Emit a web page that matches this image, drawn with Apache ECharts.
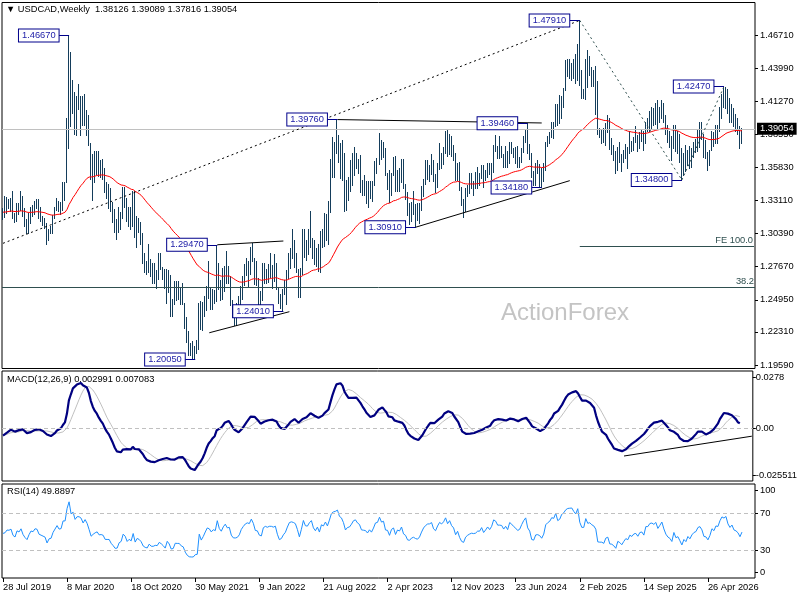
<!DOCTYPE html>
<html><head><meta charset="utf-8">
<script src="https://cdn.jsdelivr.net/npm/echarts@6/dist/echarts.min.js"></script>
<style>html,body{margin:0;padding:0;background:#fff}#c{width:800px;height:600px}</style>
</head><body><div id="c"></div>
<script>
// ---------- data ----------
const tickLabels = ['28 Jul 2019','8 Mar 2020','18 Oct 2020','30 May 2021','9 Jan 2022','21 Aug 2022','2 Apr 2023','12 Nov 2023','23 Jun 2024','2 Feb 2025','14 Sep 2025','26 Apr 2026'];
const highs = [
// 2019
1.3246,1.3345,1.3340,1.3325,1.3330,1.3385,1.3210,1.3290,1.3290,1.3385,1.3350,1.3250,1.3160,1.3210,1.3260,1.3270,1.3305,1.3320,1.3320,1.3260,1.3185,1.3165,1.3125,
// 2020
1.3080,1.3100,1.3195,1.3260,1.3330,1.3310,1.3295,1.3465,1.3460,1.3990,1.4667,1.4535,1.4300,1.4200,1.4170,1.4265,1.4170,1.4170,1.4185,1.4055,1.4010,1.3780,1.3690,1.3715,1.3715,1.3715,1.3645,1.3650,1.3580,1.3460,1.3450,1.3410,1.3300,1.3240,1.3160,1.3260,1.3220,1.3420,1.3420,1.3330,1.3255,1.3260,1.3390,1.3390,1.3180,1.3165,1.3135,1.3040,1.2880,1.2815,1.2955,1.2830,
// 2021
1.2800,1.2800,1.2740,1.2880,1.2880,1.2765,1.2750,1.2745,1.2740,1.2700,1.2500,1.2650,1.2650,1.2650,1.2600,1.2635,1.2470,1.2350,1.2240,1.2140,1.2160,1.2115,1.2165,1.2465,1.2485,1.2480,1.2530,1.2610,1.2810,1.2590,1.2585,1.2575,1.2947,1.2800,1.2660,1.2760,1.2770,1.2896,1.2775,1.2690,1.2495,1.2400,1.2465,1.2530,1.2605,1.2690,1.2785,1.2835,1.2815,1.2925,1.2964,1.2840,
// 2022
1.2815,1.2675,1.2570,1.2800,1.2800,1.2750,1.2790,1.2880,1.2780,1.2870,1.2795,1.2600,1.2540,1.2580,1.2660,1.2740,1.2880,1.2920,1.3077,1.2990,1.2880,1.2750,1.2760,1.3080,1.3080,1.2985,1.3080,1.3224,1.3005,1.2990,1.2920,1.2955,1.3060,1.3075,1.3210,1.3200,1.3310,1.3655,1.3835,1.3790,1.3976,1.3850,1.3780,1.3810,1.3700,1.3480,1.3500,1.3640,1.3700,1.3750,1.3705,1.3655,
// 2023
1.3685,1.3480,1.3520,1.3470,1.3470,1.3475,1.3470,1.3635,1.3660,1.3862,1.3805,1.3790,1.3745,1.3535,1.3560,1.3540,1.3665,1.3680,1.3560,1.3575,1.3655,1.3650,1.3450,1.3380,1.3290,1.3300,1.3385,1.3280,1.3290,1.3290,1.3430,1.3485,1.3640,1.3640,1.3605,1.3695,1.3640,1.3525,1.3620,1.3785,1.3700,1.3750,1.3880,1.3900,1.3860,1.3845,1.3765,1.3705,1.3620,1.3630,1.3420,1.3320,
// 2024
1.3410,1.3440,1.3540,1.3540,1.3475,1.3545,1.3585,1.3540,1.3605,1.3605,1.3565,1.3615,1.3615,1.3615,1.3770,1.3846,1.3760,1.3845,1.3755,1.3690,1.3755,1.3720,1.3790,1.3790,1.3745,1.3750,1.3755,1.3670,1.3740,1.3845,1.3890,1.3946,1.3775,1.3700,1.3550,1.3620,1.3640,1.3610,1.3575,1.3620,1.3795,1.3840,1.3870,1.3960,1.3960,1.4105,1.4105,1.4180,1.4170,1.4235,1.4467,1.4470,1.4470,
// 2025
1.4440,1.4470,1.4517,1.4600,1.4791,1.4380,1.4230,1.4470,1.4545,1.4500,1.4410,1.4380,1.4415,1.4290,1.3905,1.3900,1.3910,1.3950,1.4015,1.3990,1.3825,1.3770,1.3720,1.3750,1.3790,1.3690,1.3730,1.3775,1.3750,1.3880,1.3800,1.3830,1.3925,1.3850,1.3870,1.3890,1.3880,1.3960,1.3990,1.4050,1.4080,1.4070,1.4110,1.4140,1.4080,1.4137,1.4110,1.4010,1.3930,1.3880,1.3840,1.3930,
// 2026
1.3930,1.3880,1.3860,1.3740,1.3700,1.3770,1.3730,1.3760,1.3740,1.3790,1.3820,1.3900,1.3960,1.3960,1.3860,1.3810,1.3710,1.3730,1.3880,1.3870,1.3930,1.3930,1.4080,1.4190,1.4247,1.4240,1.4230,1.4150,1.4100,1.4070,1.4020,1.3990,1.3920,1.39089
];
const lows = [
// 2019
1.3155,1.3175,1.3205,1.3250,1.3225,1.3170,1.3135,1.3140,1.3200,1.3235,1.3180,1.3100,1.3040,1.3045,1.3130,1.3180,1.3200,1.3250,1.3165,1.3145,1.3110,1.3085,1.2950,
// 2020
1.2985,1.3040,1.3040,1.3170,1.3230,1.3225,1.3200,1.3235,1.3315,1.3460,1.3740,1.3920,1.4030,1.3860,1.3850,1.4060,1.3850,1.3930,1.3935,1.3850,1.3765,1.3485,1.3315,1.3460,1.3525,1.3510,1.3505,1.3485,1.3380,1.3330,1.3250,1.3225,1.3135,1.3050,1.2995,1.3055,1.3080,1.3170,1.3255,1.3140,1.3100,1.3080,1.3100,1.3010,1.2925,1.3050,1.2955,1.2800,1.2720,1.2705,1.2720,1.2690,
// 2021
1.2630,1.2630,1.2590,1.2665,1.2745,1.2665,1.2590,1.2470,1.2560,1.2365,1.2365,1.2460,1.2495,1.2500,1.2460,1.2460,1.2265,1.2150,1.2045,1.2040,1.2015,1.2005,1.2060,1.2090,1.2255,1.2250,1.2365,1.2410,1.2510,1.2420,1.2420,1.2465,1.2485,1.2580,1.2495,1.2500,1.2570,1.2630,1.2630,1.2455,1.2350,1.2288,1.2290,1.2380,1.2390,1.2500,1.2620,1.2700,1.2605,1.2710,1.2810,1.2625,
// 2022
1.2620,1.2450,1.2450,1.2490,1.2635,1.2635,1.2640,1.2680,1.2590,1.2650,1.2580,1.2470,1.2430,1.2401,1.2540,1.2460,1.2670,1.2760,1.2840,1.2765,1.2720,1.2518,1.2520,1.2710,1.2850,1.2820,1.2870,1.2930,1.2835,1.2790,1.2770,1.2728,1.2725,1.2930,1.2935,1.2985,1.2955,1.3220,1.3500,1.3500,1.3700,1.3625,1.3495,1.3480,1.3225,1.3230,1.3315,1.3390,1.3440,1.3520,1.3575,1.3535,
// 2023
1.3380,1.3360,1.3360,1.3290,1.3260,1.3335,1.3305,1.3440,1.3540,1.3610,1.3655,1.3670,1.3520,1.3405,1.3300,1.3360,1.3520,1.3385,1.3385,1.3390,1.3465,1.3410,1.3320,1.3195,1.3120,1.3140,1.3200,1.3091,1.3150,1.3130,1.3230,1.3350,1.3450,1.3485,1.3470,1.3525,1.3470,1.3380,1.3425,1.3570,1.3580,1.3610,1.3700,1.3680,1.3695,1.3680,1.3645,1.3480,1.3480,1.3400,1.3270,1.3177,
// 2024
1.3225,1.3345,1.3370,1.3410,1.3360,1.3410,1.3415,1.3440,1.3495,1.3420,1.3480,1.3500,1.3525,1.3485,1.3545,1.3720,1.3660,1.3660,1.3670,1.3590,1.3590,1.3590,1.3615,1.3700,1.3665,1.3620,1.3590,1.3590,1.3625,1.3710,1.3790,1.3700,1.3650,1.3505,1.3440,1.3440,1.3535,1.3420,1.3418,1.3470,1.3565,1.3760,1.3785,1.3830,1.3825,1.3925,1.3930,1.3950,1.3985,1.4080,1.4220,1.4330,1.4315,
// 2025
1.4300,1.4320,1.4275,1.4300,1.4260,1.4150,1.4150,1.4145,1.4240,1.4340,1.4250,1.4250,1.4025,1.3860,1.3835,1.3780,1.3790,1.3770,1.3870,1.3735,1.3690,1.3640,1.3540,1.3560,1.3630,1.3556,1.3630,1.3660,1.3575,1.3700,1.3720,1.3725,1.3790,1.3720,1.3740,1.3800,1.3725,1.3780,1.3880,1.3880,1.3900,1.3930,1.3940,1.3900,1.3960,1.3986,1.3960,1.3860,1.3790,1.3750,1.3640,1.3740,
// 2026
1.3720,1.3700,1.3630,1.3480,1.3520,1.3550,1.3600,1.3580,1.3590,1.3670,1.3710,1.3720,1.3750,1.3820,1.3670,1.3660,1.3560,1.3600,1.3730,1.3760,1.3780,1.3780,1.3880,1.3990,1.4080,1.4070,1.4030,1.3960,1.3960,1.3920,1.3880,1.3860,1.3740,1.37816
];
const closes = [
// 2019
1.3215,1.3230,1.3295,1.3290,1.3315,1.3180,1.3140,1.3270,1.3245,1.3315,1.3190,1.3115,1.3060,1.3160,1.3240,1.3225,1.3290,1.3280,1.3180,1.3160,1.3140,1.3120,1.2990,
// 2020
1.3055,1.3065,1.3165,1.3230,1.3300,1.3240,1.3250,1.3420,1.3420,1.3870,1.4350,1.4060,1.4165,1.3960,1.4110,1.4110,1.4070,1.3935,1.4090,1.3980,1.3775,1.3510,1.3580,1.3635,1.3670,1.3560,1.3570,1.3545,1.3400,1.3395,1.3395,1.3260,1.3170,1.3055,1.3060,1.3170,1.3200,1.3370,1.3310,1.3140,1.3190,1.3140,1.3320,1.3020,1.3120,1.3080,1.2995,1.2815,1.2750,1.2725,1.2810,1.2725,
// 2021
1.2720,1.2740,1.2730,1.2790,1.2750,1.2690,1.2610,1.2730,1.2650,1.2470,1.2480,1.2575,1.2570,1.2570,1.2500,1.2470,1.2290,1.2155,1.2080,1.2070,1.2070,1.2100,1.2105,1.2440,1.2275,1.2355,1.2465,1.2575,1.2555,1.2480,1.2535,1.2515,1.2800,1.2610,1.2535,1.2670,1.2760,1.2665,1.2680,1.2460,1.2370,1.2365,1.2380,1.2440,1.2580,1.2665,1.2740,1.2775,1.2760,1.2900,1.2815,1.2650,
// 2022
1.2640,1.2530,1.2510,1.2715,1.2755,1.2735,1.2760,1.2760,1.2745,1.2765,1.2610,1.2480,1.2500,1.2570,1.2620,1.2735,1.2850,1.2870,1.2860,1.2840,1.2740,1.2585,1.2750,1.3010,1.2890,1.2880,1.2985,1.3055,1.2890,1.2815,1.2920,1.2790,1.3020,1.2990,1.3130,1.3030,1.3255,1.3600,1.3700,1.3735,1.3815,1.3660,1.3620,1.3495,1.3265,1.3360,1.3380,1.3485,1.3630,1.3670,1.3590,1.3550,
// 2023
1.3400,1.3390,1.3380,1.3315,1.3400,1.3340,1.3450,1.3610,1.3630,1.3820,1.3710,1.3740,1.3520,1.3510,1.3365,1.3540,1.3585,1.3390,1.3530,1.3500,1.3630,1.3415,1.3365,1.3200,1.3180,1.3240,1.3260,1.3220,1.3200,1.3250,1.3365,1.3475,1.3545,1.3590,1.3595,1.3630,1.3505,1.3465,1.3580,1.3680,1.3650,1.3710,1.3830,1.3720,1.3810,1.3710,1.3660,1.3495,1.3580,1.3410,1.3280,1.3245,
// 2024
1.3365,1.3410,1.3440,1.3460,1.3450,1.3460,1.3500,1.3500,1.3570,1.3480,1.3530,1.3590,1.3545,1.3610,1.3765,1.3745,1.3680,1.3680,1.3675,1.3620,1.3670,1.3620,1.3760,1.3735,1.3700,1.3675,1.3640,1.3660,1.3740,1.3820,1.3880,1.3735,1.3680,1.3505,1.3490,1.3580,1.3585,1.3565,1.3515,1.3580,1.3765,1.3815,1.3850,1.3945,1.3935,1.4085,1.3970,1.4010,1.4165,1.4220,1.4340,1.4400,1.4410,
// 2025
1.4420,1.4375,1.4340,1.4530,1.4300,1.4190,1.4190,1.4465,1.4360,1.4380,1.4335,1.4310,1.4240,1.3870,1.3860,1.3860,1.3820,1.3930,1.3950,1.3740,1.3730,1.3675,1.3585,1.3720,1.3680,1.3610,1.3675,1.3730,1.3700,1.3790,1.3760,1.3810,1.3820,1.3760,1.3830,1.3840,1.3780,1.3950,1.3950,1.4020,1.4030,1.4010,1.4050,1.3960,1.4020,1.4090,1.3980,1.3880,1.3820,1.3790,1.3720,1.3880,
// 2026
1.3760,1.3780,1.3680,1.3560,1.3660,1.3600,1.3700,1.3640,1.3720,1.3770,1.3790,1.3880,1.3900,1.3840,1.3700,1.3690,1.3620,1.3700,1.3840,1.3800,1.3910,1.3900,1.4050,1.4170,1.4150,1.4200,1.4070,1.4000,1.4060,1.3960,1.3940,1.3900,1.38126,1.39054
];
const priceTicks = [1.46710,1.43990,1.41270,1.38550,1.35830,1.33110,1.30390,1.27670,1.24950,1.22310,1.19590];
const macdTicks = [0.0278, 0, -0.025511];
const macdTickLabels = ['0.0278','0.00','-0.025511'];
const rsiTicks = [95.2, 70, 30, 6.5];
const rsiTickLabels = ['100','70','30','0'];
const swingLabels = [[33,1.4667],[288,1.4791],[360,1.4247],[339,1.3480],[167,1.3976],[262,1.3946],[269,1.3418],[206,1.3091],[107,1.2947],[140,1.2401],[96,1.2005]];
const trendDotted = [[[0,1.2959],[288,1.4791]]];
const trendDashed = [[[288,1.4791],[339,1.3480]],[[339,1.3480],[360,1.4247]]];
const trendSolid = [[[167,1.3976],[269,1.3948]],[[206,1.3091],[283,1.3474]],[[107,1.2947],[140,1.2978]],[[103,1.2224],[143,1.2397]]];
const macdTrend = [[311,-0.0151],[375,-0.0043]];
const fibo382 = 1.26025;
const fe100 = [[288,1.2937],[375,1.2937]];
const maSeed = 1.3215;          // EMA(55) value at the first bar
const macdSeeds = [1.3190, 1.3235]; // EMA12 / EMA26 state before first bar
const rsiSeeds = [0.0042, 0.0045];  // Wilder average gain / loss before first bar

// ---------- derived indicators ----------
const N = closes.length;
if (highs.length !== N || lows.length !== N) console.error('length mismatch', highs.length, lows.length, N);
const SLOTS = 376;
const cats = Array.from({length: SLOTS}, (_, i) => String(i));
const ma = [], macd = [], signal = [], rsi = [];
let m = maSeed, e12 = macdSeeds[0], e26 = macdSeeds[1], ag = rsiSeeds[0], al = rsiSeeds[1];
for (let i = 0; i < N; i++) {
  const c = closes[i];
  m += (2/56) * (c - m); ma.push(m);
  e12 += (2/13) * (c - e12); e26 += (2/27) * (c - e26);
  macd.push(e12 - e26);
  const w = macd.slice(Math.max(0, i - 8), i + 1);
  signal.push(w.reduce((a, b) => a + b, 0) / w.length);
  if (i > 0) { const d = c - closes[i-1]; ag = (ag*13 + Math.max(d,0))/14; al = (al*13 + Math.max(-d,0))/14; }
  rsi.push(100 - 100/(1 + ag/al));
}

// ---------- chart ----------
const FONT = 'Liberation Sans, Arial, sans-serif';
const FS = 9.3;
const LEAD = 5;
const BAR_COLOR = '#143d5b';
const txt = {fontFamily: FONT, fontSize: FS, color: '#000'};
const chart = echarts.init(document.getElementById('c'), null, {renderer: 'canvas'});
const gridBase = {left: 2, right: 45, show: true, borderColor: '#000', borderWidth: 1, backgroundColor: '#fff'};
function hiddenX(g){ return {gridIndex: g, type: 'category', data: cats, boundaryGap: true, show: false}; }
function rightY(g, min, max, vals, fmt, margin){
  return {gridIndex: g, type: 'value', position: 'right', min: min, max: max,
    axisLine: {show: false}, splitLine: {show: false},
    axisTick: {show: true, customValues: vals, length: 3, lineStyle: {color: '#000'}},
    axisLabel: Object.assign({customValues: vals, formatter: fmt, margin: margin}, txt)};
}
const seg = (a, b, style) => [{coord: a, lineStyle: style}, {coord: b}];
const solidBlack = {color: '#000', width: 1, type: 'solid'};
const dotBlack = {color: '#000', width: 1, type: [2, 3]};
const dashSlate = {color: '#2f4f4f', width: 1, type: [2, 3]};
const navyLine = {color: '#00008b', width: 1, type: 'solid'};
const last = N - 1;
const headText = '\u25BC USDCAD,Weekly  ' + [closes[last-1], highs[last], lows[last], closes[last]].map(v => v.toFixed(5)).join(' ');

const option = {
  animation: false,
  backgroundColor: '#fff',
  title: [
    {text: headText, left: 6, top: 5, padding: 0, textStyle: Object.assign({fontWeight: 'normal'}, txt)},
    {text: 'MACD(12,26,9) 0.002991 0.007083', left: 7, top: 375, padding: 0, textStyle: Object.assign({fontWeight: 'normal'}, txt)},
    {text: 'RSI(14) 49.8897', left: 7, top: 487, padding: 0, textStyle: Object.assign({fontWeight: 'normal'}, txt)}
  ],
  graphic: [{type: 'text', left: 501, top: 301, z: 0, silent: true,
    style: {text: 'ActionForex', fontSize: 24, fontFamily: FONT, fill: '#c4c4c4'}}],
  grid: [
    Object.assign({top: 2.5, height: 366}, gridBase),
    Object.assign({top: 371, height: 110}, gridBase),
    Object.assign({top: 484, height: 94}, gridBase)
  ],
  xAxis: [hiddenX(0), hiddenX(1), {
    gridIndex: 2, type: 'category', data: cats, boundaryGap: true,
    axisLine: {show: false}, splitLine: {show: false},
    axisTick: {show: true, interval: 31, alignWithLabel: true, length: 4, lineStyle: {color: '#000'}},
    axisLabel: Object.assign({interval: 31, align: 'left', margin: 5,
      formatter: (v, idx) => tickLabels[Math.round(idx/32)] || ''}, txt)
  }],
  yAxis: [
    rightY(0, 1.19302, 1.49381, priceTicks, v => v.toFixed(5), 5),
    rightY(1, -0.02872, 0.03123, macdTicks, v => macdTickLabels[macdTicks.indexOf(v)] || '', 3),
    rightY(2, 0, 101.7, rsiTicks, v => rsiTickLabels[rsiTicks.indexOf(v)] || '', 5)
  ],
  series: [
    { // horizontal levels, behind the bars
      type: 'line', name: 'levels', xAxisIndex: 0, yAxisIndex: 0, data: [], z: 1, silent: true,
      markLine: {silent: true, symbol: ['none','none'], animation: false, label: {show: false},
        data: [
          {yAxis: closes[last], lineStyle: {color: '#c0c0c0', width: 1, type: 'solid'},
           label: {show: true, position: 'end', distance: 2, formatter: closes[last].toFixed(5),
             color: '#fff', backgroundColor: '#000', padding: [2, 3, 1, 3], fontFamily: FONT, fontSize: FS}},
          {yAxis: fibo382, lineStyle: {color: '#2f4f4f', width: 1, type: 'solid'},
           label: {show: true, position: 'insideEndTop', distance: 1, formatter: '38.2', color: '#2f4f4f', fontFamily: FONT, fontSize: FS}},
          [{coord: fe100[0], lineStyle: {color: '#2f4f4f', width: 1, type: 'solid'},
            label: {show: true, position: 'insideEndTop', distance: 1, formatter: 'FE 100.0', color: '#2f4f4f', fontFamily: FONT, fontSize: FS}},
           {coord: fe100[1]}]
        ]}
    },
    {
      type: 'custom', name: 'bars', xAxisIndex: 0, yAxisIndex: 0, z: 3, clip: true, silent: true,
      data: closes.map((c, i) => [i, highs[i], lows[i], c]),
      encode: {x: 0, y: [1, 2]},
      renderItem: function (params, api) {
        const t = api.coord([api.value(0), api.value(1)]);
        const b = api.coord([api.value(0), api.value(2)]);
        const x = Math.round(t[0]) - 0.5;
        return {type: 'line', shape: {x1: x, y1: Math.round(t[1]), x2: x, y2: Math.round(b[1]) + 1},
          style: {stroke: BAR_COLOR, lineWidth: 1}};
      }
    },
    {
      type: 'line', name: 'EMA55', xAxisIndex: 0, yAxisIndex: 0, z: 4, silent: true,
      data: ma, showSymbol: false, symbol: 'none', lineStyle: {color: '#ff0000', width: 1},
      markLine: {silent: true, symbol: ['none','none'], animation: false, label: {show: false},
        data: [].concat(
          trendDotted.map(s => seg(s[0], s[1], dotBlack)),
          trendDashed.map(s => seg(s[0], s[1], dashSlate)),
          trendSolid.map(s => seg(s[0], s[1], solidBlack)),
          swingLabels.map(([i, p]) => seg([i - LEAD, p], [i, p], navyLine))
        )},
      markPoint: {silent: true, symbol: 'rect', symbolSize: 1, animation: false,
        itemStyle: {color: 'rgba(0,0,0,0)'},
        label: {show: true, position: 'left', distance: 0, color: '#1a1aa6', backgroundColor: '#fff',
          borderColor: '#00008b', borderWidth: 1, padding: [2, 3, 1, 3], fontFamily: FONT, fontSize: FS,
          formatter: p => Number(p.value).toFixed(5)},
        data: swingLabels.map(([i, p]) => ({coord: [i - LEAD, p], value: p}))}
    },
    {
      type: 'line', name: 'signal', xAxisIndex: 1, yAxisIndex: 1, z: 3, silent: true,
      data: signal, showSymbol: false, symbol: 'none', lineStyle: {color: '#c0c0c0', width: 1},
      markLine: {silent: true, symbol: ['none','none'], animation: false, label: {show: false},
        data: [{yAxis: 0, lineStyle: {color: '#c0c0c0', width: 1, type: [4, 3]}}]}
    },
    {
      type: 'line', name: 'MACD', xAxisIndex: 1, yAxisIndex: 1, z: 4, silent: true,
      data: macd, showSymbol: false, symbol: 'none', lineStyle: {color: '#000080', width: 2.2},
      markLine: {silent: true, symbol: ['none','none'], animation: false, label: {show: false},
        data: [seg(macdTrend[0], macdTrend[1], solidBlack)]}
    },
    {
      type: 'line', name: 'RSI', xAxisIndex: 2, yAxisIndex: 2, z: 4, silent: true,
      data: rsi, showSymbol: false, symbol: 'none', lineStyle: {color: '#1e90ff', width: 1},
      markLine: {silent: true, symbol: ['none','none'], animation: false, label: {show: false},
        data: [{yAxis: 70, lineStyle: {color: '#c0c0c0', width: 1, type: [4, 3]}},
               {yAxis: 30, lineStyle: {color: '#c0c0c0', width: 1, type: [4, 3]}}]}
    }
  ]
};
chart.setOption(option);
</script>
</body></html>
